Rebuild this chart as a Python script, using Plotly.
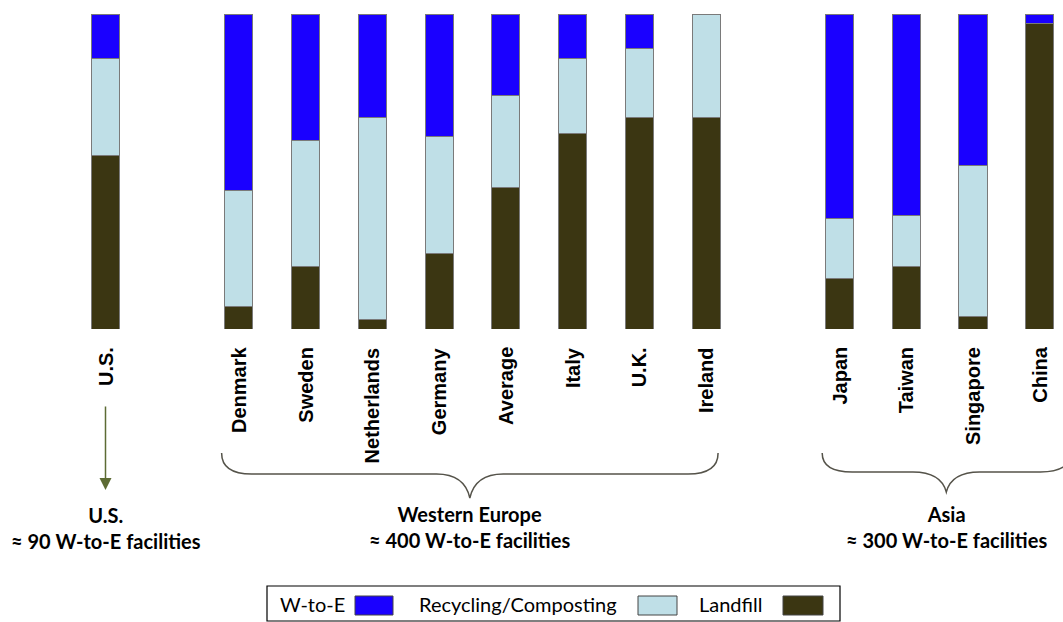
import plotly.graph_objects as go

# ---- data ----
categories = ["U.S.", "Denmark", "Sweden", "Netherlands", "Germany", "Average",
              "Italy", "U.K.", "Ireland", "Japan", "Taiwan", "Singapore", "China"]
group_sizes = [1, 8, 4]          # U.S., Western Europe, Asia
landfill = [55, 7, 20, 3, 24, 45, 62, 67, 67, 16, 20, 4, 97]
recycling = [31, 37, 40, 64, 37, 29, 24, 22, 33, 19, 16, 48, 0]
wte = [14, 56, 40, 33, 39, 26, 14, 11, 0, 65, 64, 48, 3]
series_names = ["W-to-E", "Recycling/Composting", "Landfill"]
group_titles = ["U.S.<br>≈ 90 W-to-E facilities",
                "Western Europe<br>≈ 400 W-to-E facilities",
                "Asia<br>≈ 300 W-to-E facilities"]

# ---- styles ----
C_WTE = "#1a00ff"
C_REC = "#bfdfe7"
C_LAND = "#3b3612"
EDGE = "#7a7a7a"
W, H = 1063, 622
TOP, BOT = 14, 329               # plot area in pixels
SLOT = 66.73
X0 = 105.5

# positions: one empty slot between groups
positions = []
p = 0
for gi, n in enumerate(group_sizes):
    for k in range(n):
        positions.append(p)
        p += 1
    p += 1

def py(pix):
    return (BOT - pix) / (BOT - TOP)

def px_x(pix):
    return pix / W

fig = go.Figure()
for name, vals, col in [(series_names[2], landfill, C_LAND),
                        (series_names[1], recycling, C_REC),
                        (series_names[0], wte, C_WTE)]:
    fig.add_trace(go.Bar(x=positions, y=vals, name=name, width=0.42,
                         marker=dict(color=col, line=dict(color=EDGE, width=1)),
                         showlegend=False))

ann = []
shapes = []
# category labels
for cat, pos in zip(categories, positions):
    ann.append(dict(x=pos, xref="x", y=py(345), yref="paper", text="<b>" + cat + "</b>",
                    textangle=-90, showarrow=False, xanchor="center", yanchor="top",
                    font=dict(family="Liberation Sans, Arial", size=20, color="black"),
                    ))

# group positions
idx = 0
groups = []
for n in group_sizes:
    groups.append(positions[idx:idx + n])
    idx += n

gfont = dict(family="Lato", size=20, color="black")
# U.S. arrow
ann.append(dict(x=groups[0][0], xref="x", y=py(490), yref="paper",
                ax=0, ay=-85, showarrow=True, arrowhead=2, arrowsize=1.6,
                arrowwidth=1.5, arrowcolor="#5d6b34", text=""))
ann.append(dict(x=groups[0][0], xref="x", y=py(528), yref="paper",
                text="<b>" + group_titles[0] + "</b>", showarrow=False,
                font=gfont, xanchor="center", yanchor="middle"))

# braces
def brace(xl, xr, xc, ytop, yh, ytip):
    d = 0.45
    return (f"M {xl},{ytop} Q {xl},{yh} {xl + d},{yh} "
            f"L {xc - 0.5},{yh} Q {xc - 0.08},{yh} {xc},{ytip} "
            f"Q {xc + 0.08},{yh} {xc + 0.5},{yh} "
            f"L {xr - d},{yh} Q {xr},{yh} {xr},{ytop}")

brace_specs = [(groups[1], 474, 498, 3.72), (groups[2], 472, 492, 1.86)]
for gi, (g, yh, ytip, half) in enumerate(brace_specs):
    xl = g[0] - 0.26
    xc = xl + half
    xr = 2 * xc - xl
    shapes.append(dict(type="path", xref="x", yref="paper",
                       path=brace(xl, xr, xc, py(453), py(yh), py(ytip)),
                       line=dict(color="#55534a", width=1.5)))
    ann.append(dict(x=xc, xref="x", y=py(527), yref="paper",
                    text="<b>" + group_titles[gi + 1] + "</b>", showarrow=False,
                    font=gfont, xanchor="center", yanchor="middle"))

# legend (text followed by swatch)
shapes.append(dict(type="rect", xref="paper", yref="paper",
                   x0=px_x(267), x1=px_x(840), y0=py(586), y1=py(621),
                   line=dict(color="black", width=1.2), fillcolor="white"))
leg_text_x = [278, 417, 697]
leg_sw = [(355, 393), (638, 677), (783, 823)]
leg_cols = [C_WTE, C_REC, C_LAND]
for name, tx, (s0, s1), col in zip(series_names, leg_text_x, leg_sw, leg_cols):
    ann.append(dict(x=px_x(tx), xref="paper", y=py(604), yref="paper", text=name,
                    showarrow=False, xanchor="left", yanchor="middle",
                    font=dict(family="Lato", size=20, color="black")))
    shapes.append(dict(type="rect", xref="paper", yref="paper",
                       x0=px_x(s0), x1=px_x(s1), y0=py(596), y1=py(615),
                       fillcolor=col, line=dict(color="#444", width=1)))

fig.update_layout(
    width=W, height=H, barmode="stack",
    margin=dict(l=0, r=0, t=TOP, b=H - BOT, pad=0),
    paper_bgcolor="white", plot_bgcolor="white",
    xaxis=dict(range=[-X0 / SLOT, (W - X0) / SLOT], visible=False, fixedrange=True),
    yaxis=dict(range=[0, 100], visible=False, fixedrange=True),
    annotations=ann, shapes=shapes,
)
fig.write_html("out.html")
